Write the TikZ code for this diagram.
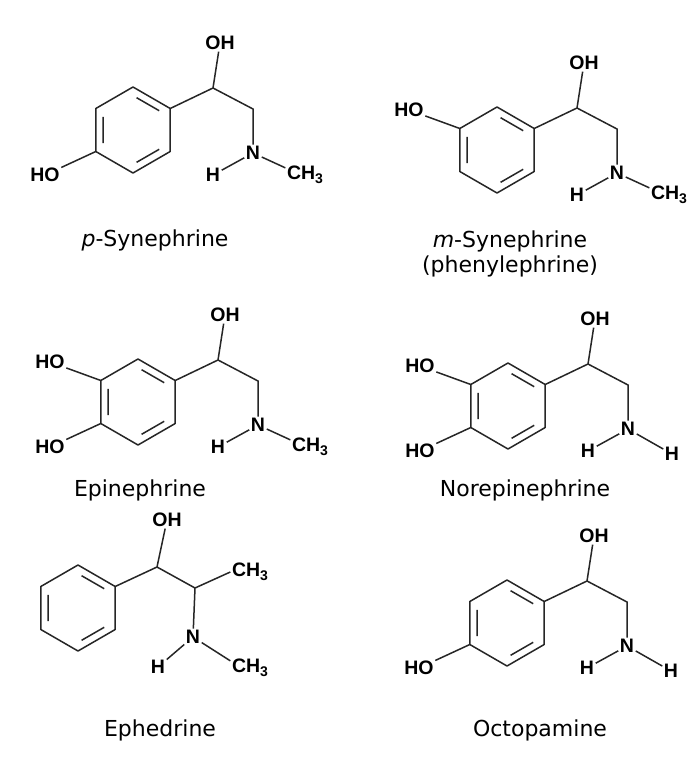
\documentclass[tikz,border=0pt]{standalone}
\usepackage{fontspec}
\setmainfont{DejaVu Sans}
\newfontfamily\atomfont{Liberation Sans}
\usetikzlibrary{calc}
\newcommand\tri{\raisebox{-0.35ex}{\fontsize{14}{14}\selectfont 3}}
\tikzset{
 bond/.style={line width=1.5pt,color=black!85},
 atom/.style={font=\atomfont\bfseries\fontsize{19.5}{19.5}\selectfont,inner sep=1.5pt},
 molname/.style={font=\fontsize{22}{25}\selectfont,align=center}
}
\newcommand\benz{%
 \coordinate (a1) at (0,-43); \coordinate (a2) at (37.2,-21.5);
 \coordinate (a3) at (37.2,21.5); \coordinate (a4) at (0,43);
 \coordinate (a5) at (-37.2,21.5); \coordinate (a6) at (-37.2,-21.5);
 \draw[bond,line join=round] (a1)--(a2)--(a3)--(a4)--(a5)--(a6)--cycle;
 \coordinate (i1) at (3.6,-32.3); \coordinate (i2) at (26.2,-19.3);
 \coordinate (i3) at (26.2,19.3); \coordinate (i4) at (3.6,32.3);
 \coordinate (i5) at (-29.8,13.1); \coordinate (i6) at (-29.8,-13.1);
 \draw[bond] (i1)--(i2) (i3)--(i4) (i5)--(i6);}
\newcommand\chain[1]{%
 \coordinate (c1) at (80,-42); \coordinate (c2) at (120,-21);
 \node[atom] (oh) at (87,-87) {OH};
 \node[atom] (n) at (120,23) {N};
 \node[atom] (h) at (80,45) {H};
 \draw[bond] (a2)--(c1)--(c2)--(n) (c1)--(oh) (n)--(h);
 #1}
\newcommand\paraOH{\node[atom] (ho1) at (-88,45) {HO}; \draw[bond] (a5)--(ho1);}
\newcommand\metaOH{\node[atom] (ho2) at (-88,-40) {HO}; \draw[bond] (a6)--(ho2);}
\newcommand\nme{\node[atom] (me) at (172,45) {CH\tri}; \draw[bond] (n)--(me.160);}
\newcommand\nh{\node[atom] (h2) at (164,48) {H}; \draw[bond] (n)--(h2);}
\begin{document}
\begin{tikzpicture}[x=1pt,y=-1pt]
\path[use as bounding box,fill=white] (0,0) rectangle (698,763);
\begin{scope}[shift={(133,130)}] \benz \chain{\nme} \paraOH \end{scope}
\node[molname] (t1) at (155,240) {\textit{p}-Synephrine};
\begin{scope}[shift={(497,150)}] \benz \chain{\nme} \metaOH \end{scope}
\node[molname] (t2) at (510,254) {\textit{m}-Synephrine\\(phenylephrine)};
\begin{scope}[shift={(138,402)}] \benz \chain{\nme} \paraOH \metaOH \end{scope}
\node[molname] (t3) at (140,490) {Epinephrine};
\begin{scope}[shift={(508,406)}] \benz \chain{\nh} \paraOH \metaOH \end{scope}
\node[molname] (t4) at (525,490) {Norepinephrine};
\begin{scope}[shift={(78,608)}] \benz
 \coordinate (c1) at (79,-41); \coordinate (c2) at (117,-20);
 \node[atom] (oh) at (89,-88) {OH};
 \node[atom] (me1) at (172,-36) {CH\tri};
 \node[atom] (n) at (115,29) {N};
 \node[atom] (h) at (80,59) {H};
 \node[atom] (me2) at (172,60) {CH\tri};
 \draw[bond] (a2)--(c1)--(c2)--(n) (c1)--(oh) (n)--(h) (c2)--(me1.west) (n)--(me2.160);
\end{scope}
\node[molname] (t5) at (160,730) {Ephedrine};
\begin{scope}[shift={(507,623)}] \benz \chain{\nh} \paraOH \end{scope}
\node[molname] (t6) at (540,730) {Octopamine};
\end{tikzpicture}
\end{document}
